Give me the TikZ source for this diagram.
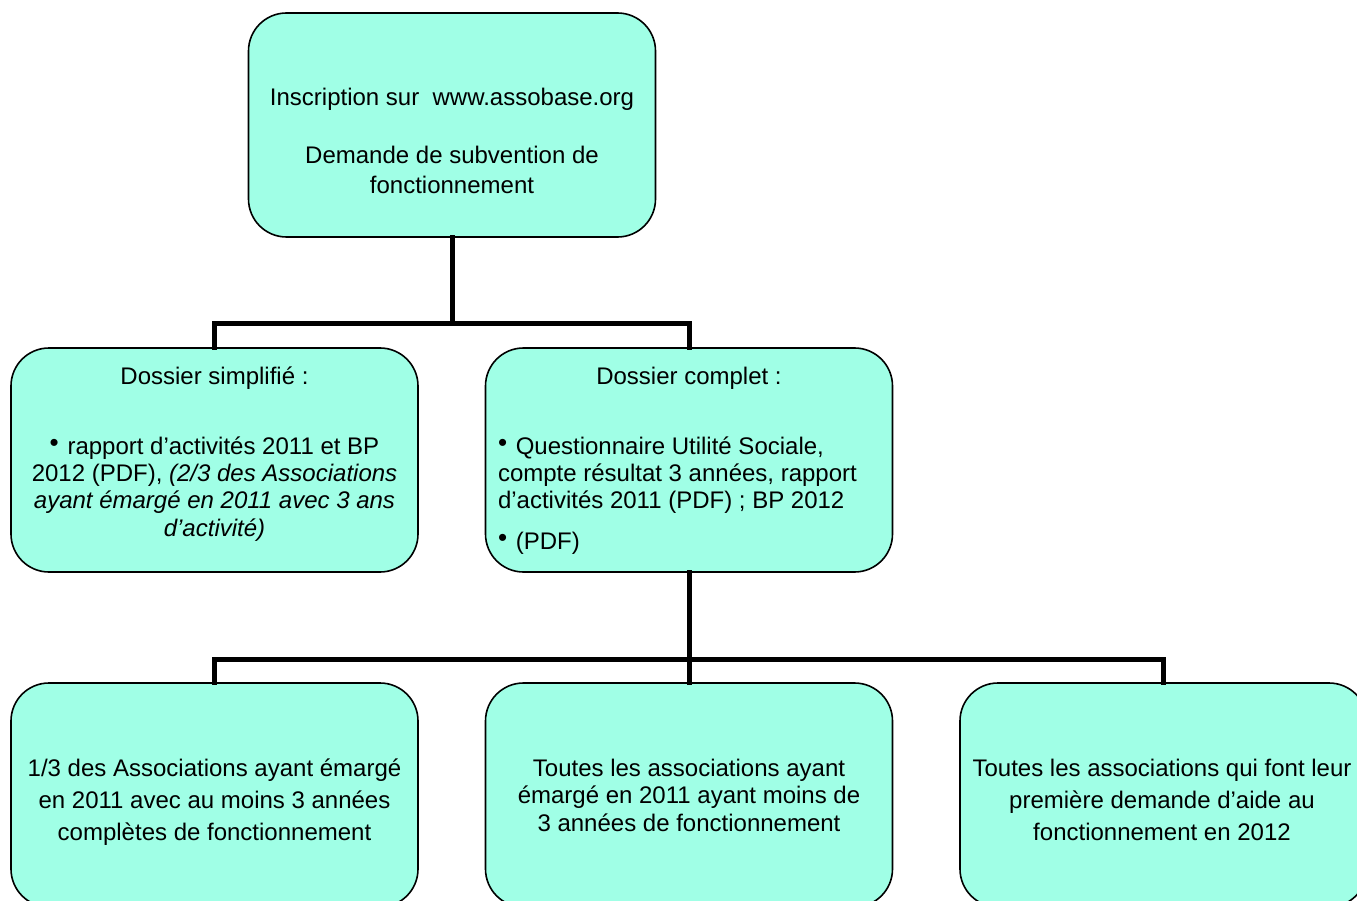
\documentclass[tikz,border=0pt]{standalone}
\usepackage{fontspec}
\setmainfont{Liberation Sans}
\definecolor{boxfill}{RGB}{160,255,230}
\newcommand{\bul}{\raisebox{3pt}{\fontsize{26}{26}\selectfont •}\hspace{2pt}}
\tikzset{
  box/.style={draw=black, line width=1.6pt, fill=boxfill, rounded corners=38pt,
    minimum width=407pt, minimum height=224pt, inner sep=0pt},
  txt/.style={inner sep=0pt, outer sep=0pt, align=center, font=\fontsize{24}{27.3}\selectfont},
  link/.style={line width=5pt, line join=miter, line cap=rect}
}
\begin{document}
\begin{tikzpicture}[x=1pt, y=-1pt]
\useasboundingbox (0,0) rectangle (1357,901);
\clip (0,0) rectangle (1357,901);
% boxes
\node[box] (top) at (452,125) {};
\node[box] (midL) at (214.5,460) {};
\node[box] (midR) at (689,460) {};
\node[box] (botL) at (214.5,795) {};
\node[box] (botM) at (689,795) {};
\node[box] (botR) at (1163.5,795) {};
% connectors
\coordinate (bus1) at (452,323);
\coordinate (bus2) at (689,659);
\draw[link] (top.south) -- (bus1);
\draw[link] (midL.north) |- (bus1) -| (midR.north);
\draw[link] (midR.south) -- (bus2);
\draw[link] (botL.north) |- (bus2) -| (botR.north);
\draw[link] (bus2) -- (botM.north);
% texts (base anchor = baseline of the last line)
\node[txt, anchor=base, font=\fontsize{24}{30}\selectfont] (ttop) at (452,194)
  {Inscription sur\ \ www.assobase.org\\[28pt] Demande de subvention de\\ fonctionnement};
\node[txt, anchor=base] (hL) at (214.5,384) {Dossier simplifié :};
\node[txt, anchor=base] (bL) at (214.5,536)
  {\bul\ rapport d’activités 2011 et BP\\ 2012 (PDF), \textit{(2/3 des Associations}\\ \textit{ayant émargé en 2011 avec 3 ans}\\ \textit{d’activité)}};
\node[txt, anchor=base] (hR) at (689,384) {Dossier complet :};
\node[txt, anchor=base west, align=left] (bR) at (498,549)
  {\bul\ Questionnaire Utilité Sociale,\\ compte résultat 3 années, rapport\\ d’activités 2011 (PDF) ; BP 2012\\[13pt] \bul\ (PDF)};
\node[txt, anchor=base, font=\fontsize{24}{32}\selectfont] (tL) at (214.5,840)
  {1/3 des Associations ayant émargé\\ en 2011 avec au moins 3 années\\ complètes de fonctionnement};
\node[txt, anchor=base] (tM) at (689,831)
  {Toutes les associations ayant\\ émargé en 2011 ayant moins de\\ 3 années de fonctionnement};
\node[txt, anchor=base, font=\fontsize{24}{32}\selectfont] (tR) at (1162,840)
  {Toutes les associations qui font leur\\ première demande d’aide au\\ fonctionnement en 2012};
\end{tikzpicture}
\end{document}
